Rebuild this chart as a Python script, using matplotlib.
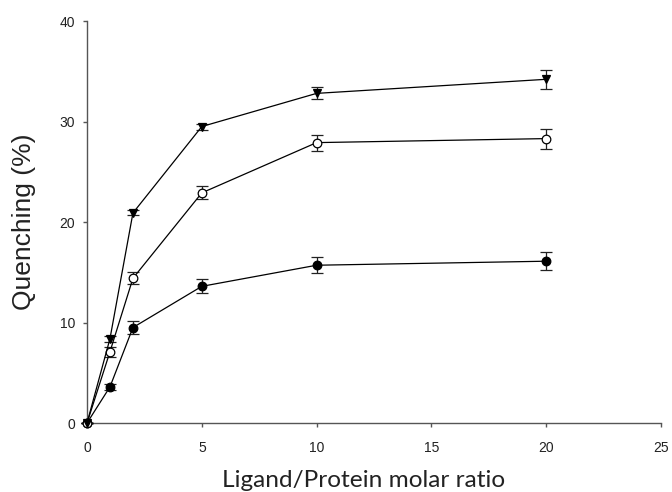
import matplotlib
matplotlib.use("Agg")
import matplotlib.pyplot as plt

ratio = [0, 1, 2, 5, 10, 20]
tri_vals = [0, 8.4, 20.9, 29.5, 32.8, 34.2]
tri_err = [0, 0.3, 0.25, 0.3, 0.6, 0.95]
open_vals = [0, 7.1, 14.4, 22.9, 27.9, 28.3]
open_err = [0, 0.5, 0.58, 0.65, 0.8, 1.0]
fill_vals = [0, 3.6, 9.5, 13.6, 15.7, 16.1]
fill_err = [0, 0.3, 0.63, 0.7, 0.8, 0.87]

xticks = [0, 5, 10, 15, 20, 25]
yticks = [0, 10, 20, 30, 40]

fig = plt.figure(figsize=(6.72, 4.92), dpi=100)
ax = fig.add_axes([0.1295, 0.1402, 0.9836 - 0.1295, 0.9573 - 0.1402])

common = dict(color="black", lw=0.9, ecolor="#222222", elinewidth=0.9,
              capsize=4.3, capthick=0.9, clip_on=False, zorder=3)
for vals, err, mk, fc in [(fill_vals, fill_err, "o", "black"),
                          (open_vals, open_err, "o", "white"),
                          (tri_vals, tri_err, "v", "black")]:
    eb = ax.errorbar(ratio, vals, yerr=err, marker=mk, ms=6.2, mfc=fc,
                     mec="black", mew=0.9, **common)
    for a in eb.lines[1] + eb.lines[2]:
        a.set_clip_on(False)

ax.set_xlim(0, 25)
ax.set_ylim(0, 40)
ax.set_xticks(xticks)
ax.set_yticks(yticks)
for s in ["top", "right"]:
    ax.spines[s].set_visible(False)
for s in ["left", "bottom"]:
    ax.spines[s].set_color("#555555")
    ax.spines[s].set_linewidth(1.0)
ax.tick_params(direction="out", length=3, width=1.0, color="#555555",
               labelsize=10)
ax.tick_params(axis="x", pad=10)
ax.tick_params(axis="y", pad=5.5)
for lab in ax.get_xticklabels() + ax.get_yticklabels():
    lab.set_family("Liberation Sans")
    lab.set_color("#222222")

ax.set_ylabel("Quenching (%)", family="Liberation Sans", fontsize=19,
              color="#222222", labelpad=17)
fig.text(364 / 672, 1 - 487 / 492, "Ligand/Protein molar ratio", family="Lato",
         fontsize=17.6, color="#222222", ha="center", va="baseline")

fig.savefig("out.png", dpi=100)
